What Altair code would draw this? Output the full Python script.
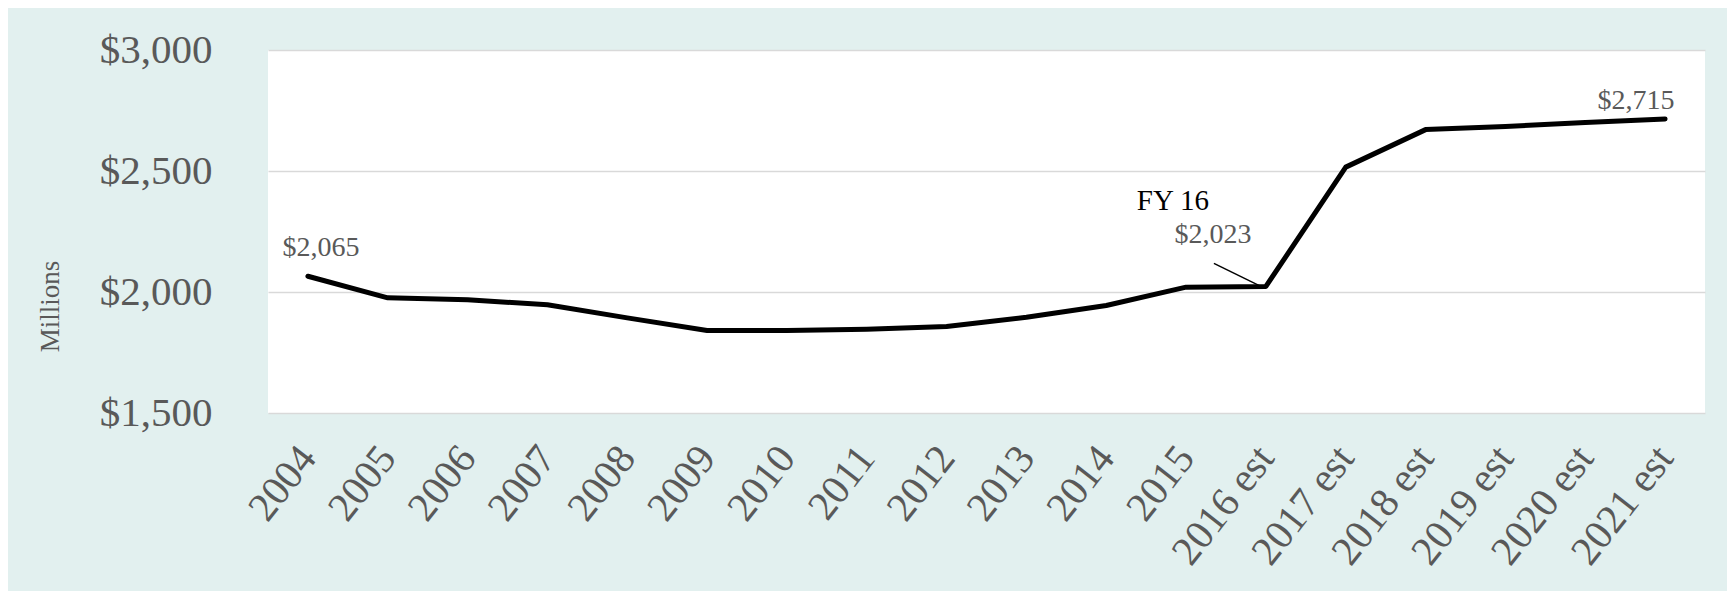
import altair as alt
import pandas as pd

years = ["2004", "2005", "2006", "2007", "2008", "2009", "2010", "2011", "2012",
         "2013", "2014", "2015", "2016 est", "2017 est", "2018 est", "2019 est",
         "2020 est", "2021 est"]
values = [2065, 1976, 1968, 1947, 1893, 1841, 1841, 1846, 1857,
          1896, 1944, 2020, 2023, 2516, 2671, 2684, 2700, 2715]

df = pd.DataFrame({"year": years, "value": values})

SERIF = "Liberation Serif"
GRAY = "#595959"

x_enc = alt.X("year:N", sort=years, scale=alt.Scale(type="point", padding=0.5),
              axis=alt.Axis(title=None, labelAngle=-52, labelAlign="right",
                            labelBaseline="middle", labelFont=SERIF, labelFontSize=41,
                            labelColor=GRAY, labelPadding=38, ticks=False,
                            domain=False, grid=False))
y_enc = alt.Y("value:Q", scale=alt.Scale(domain=[1500, 3000], nice=False, zero=False),
              axis=alt.Axis(title="Millions", values=[1500, 2000, 2500, 3000],
                            format="$,.0f", labelFont=SERIF, labelFontSize=41,
                            labelColor=GRAY, labelPadding=56, ticks=False, domain=False,
                            gridColor="#D9D9D9", gridWidth=1.5,
                            titleFont=SERIF, titleFontSize=27, titleFontWeight="normal",
                            titleColor=GRAY, titleX=-210, titleY=256,
                            titleBaseline="alphabetic"))

line = alt.Chart(df).mark_line(color="black", strokeWidth=5, strokeCap="round",
                               strokeJoin="round").encode(x=x_enc, y=y_enc)

def label(year, text, dx, dy, color=GRAY, size=28):
    sub = df[df["year"] == year].assign(txt=text)
    return alt.Chart(sub).mark_text(font=SERIF, fontSize=size, color=color, dx=dx, dy=dy,
                                    align="center", baseline="alphabetic").encode(
        x=alt.X("year:N", sort=years), y="value:Q", text="txt:N")

lab_first = label("2004", "$2,065", 13, -20)
lab_fy = label("2016 est", "FY 16", -93, -76, color="black", size=29)
lab_16 = label("2016 est", "$2,023", -53, -43)
lab_last = label("2021 est", "$2,715", -29, -10)

leader = alt.Chart(df[df["year"] == "2016 est"]).mark_rule(
    color="black", strokeWidth=1.5, x2Offset=-52, y2Offset=-23, xOffset=-3, yOffset=1
).encode(x=alt.X("year:N", sort=years), x2="year:N", y="value:Q", y2="value:Q")

chart = alt.layer(line, leader, lab_first, lab_fy, lab_16, lab_last).properties(
    width=1437, height=363,
    autosize="none",
    padding={"left": 260, "top": 42, "right": 22, "bottom": 178},
    background="#E2F0EF",
).configure_view(fill="white", stroke=None)

chart.save("out.html", embed_options={"renderer": "svg", "actions": False})
